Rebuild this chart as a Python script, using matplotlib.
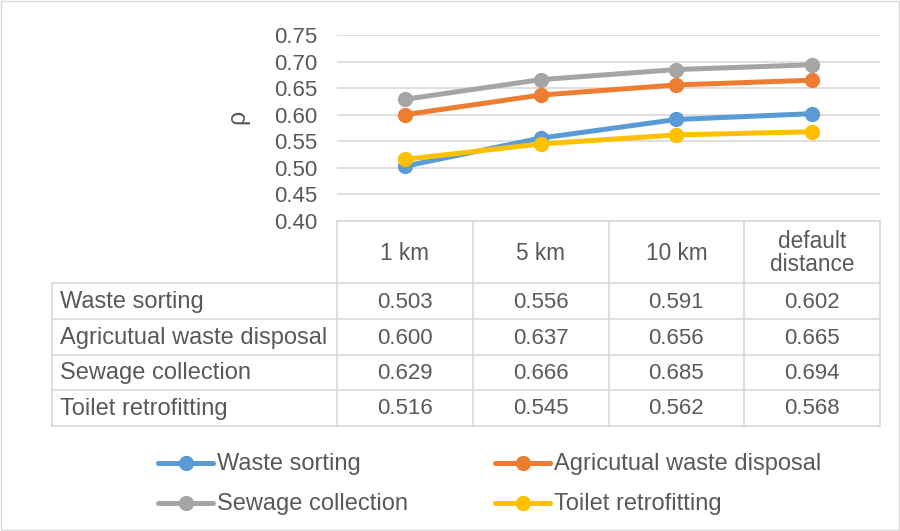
import matplotlib.pyplot as plt
from matplotlib.patches import Rectangle
import numpy as np

categories = ['1 km', '5 km', '10 km', 'default\ndistance']
series = ['Waste sorting', 'Agricutual waste disposal', 'Sewage collection', 'Toilet retrofitting']
waste_sorting = [0.503, 0.556, 0.591, 0.602]
agri_waste = [0.600, 0.637, 0.656, 0.665]
sewage = [0.629, 0.666, 0.685, 0.694]
toilet = [0.516, 0.545, 0.562, 0.568]
values = [waste_sorting, agri_waste, sewage, toilet]
colors = ['#5B9BD5', '#ED7D31', '#A5A5A5', '#FFC000']
yticks = [0.40, 0.45, 0.50, 0.55, 0.60, 0.65, 0.70, 0.75]

plt.rcParams['font.family'] = ['Liberation Sans', 'DejaVu Sans']
txt = '#595959'
grid = '#D9D9D9'
fs = 17      # words
fn = 16      # numbers

W, H = 900, 531
fig = plt.figure(figsize=(W / 100, H / 100), dpi=100)

# pixel layout
x0, x1 = 337, 880
ytop, ybot = 35, 221

ax = fig.add_axes([x0 / W, 1 - ybot / H, (x1 - x0) / W, (ybot - ytop) / H])
xs = np.arange(len(categories))
for vals, c in zip(values, colors):
    ax.plot(xs, vals, color=c, lw=3.6, marker='o', ms=10, solid_capstyle='round', zorder=3)
ax.set_xlim(-0.5, len(categories) - 0.5)
ax.set_ylim(0.40, 0.75)
ax.set_yticks(yticks)
ax.set_yticklabels(['{:.2f}'.format(v) for v in yticks], color=txt, fontsize=fn)
ax.tick_params(axis='y', length=0, pad=14)
ax.set_xticks([])
ax.grid(axis='y', color=grid, lw=1.2)
for s in ax.spines.values():
    s.set_visible(False)
ax.set_ylabel('ρ', color=txt, fontsize=18, va='center')
ax.yaxis.set_label_coords(-0.184, 0.56)

# overlay in pixel coords for the data table and legend
ov = fig.add_axes([0, 0, 1, 1])
ov.set_xlim(0, W)
ov.set_ylim(H, 0)
ov.axis('off')

colw = (x1 - x0) / len(categories)
xl = 52
rows = [221, 283, 319, 355, 390, 426]
lc = '#D9D9D9'
ov.plot([x0, x1], [rows[0], rows[0]], color=lc, lw=1.2)
for y in rows[1:]:
    ov.plot([xl, x1], [y, y], color=lc, lw=1.2)
ov.plot([xl, xl], [rows[1], rows[-1]], color=lc, lw=1.2)
for i in range(len(categories) + 1):
    xv = x0 + i * colw
    ov.plot([xv, xv], [rows[0], rows[-1]], color=lc, lw=1.2)

for i, cat in enumerate(categories):
    ov.text(x0 + (i + 0.5) * colw, (rows[0] + rows[1]) / 2 + 1, cat, ha='center', va='center',
            color=txt, fontsize=16.3, linespacing=1.0)
for r, (name, vals) in enumerate(zip(series, values)):
    yc = (rows[r + 1] + rows[r + 2]) / 2 + 1
    ov.text(xl + 8, yc, name, ha='left', va='center', color=txt, fontsize=fs)
    for i, v in enumerate(vals):
        ov.text(x0 + (i + 0.5) * colw, yc, '{:.3f}'.format(v), ha='center', va='center',
                color=txt, fontsize=fn)

# legend
leg_x = [158, 495]
leg_y = [463, 503]
for k, (name, c) in enumerate(zip(series, colors)):
    lx = leg_x[k % 2]
    ly = leg_y[k // 2]
    ov.plot([lx, lx + 27.5, lx + 55], [ly, ly, ly], color=c, lw=3.6, marker='o', ms=10,
            markevery=[1], solid_capstyle='round')
    ov.text(lx + 59, ly + 1, name, ha='left', va='center', color=txt, fontsize=fs)

ov.add_patch(Rectangle((0.5, 0.5), W - 1.5, H - 1.5, fill=False, edgecolor=lc, lw=1))

fig.savefig('out.png', dpi=100)
